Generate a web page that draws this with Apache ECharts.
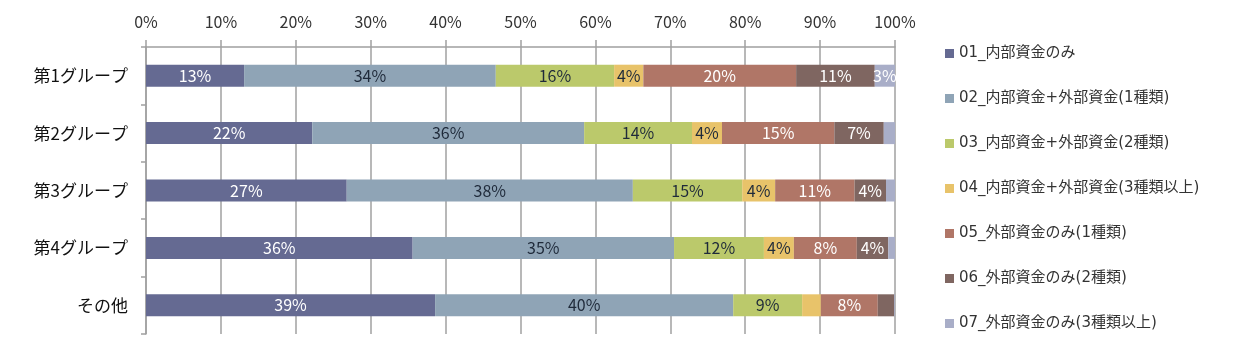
<!DOCTYPE html>
<html lang="ja">
<head>
    <meta charset="UTF-8">
    <title>資金調達の組み合わせ</title>
    <style>
        html, body { margin: 0; padding: 0; background: #ffffff; }
        #chart { width: 1255px; height: 355px; }
    </style>
</head>
<body>
<div id="chart"></div>
<script src="https://cdn.jsdelivr.net/npm/echarts@6/dist/echarts.min.js"></script>
<script>
    var categories = ['第1グループ', '第2グループ', '第3グループ', '第4グループ', 'その他'];
    var seriesNames = [
        '01_内部資金のみ',
        '02_内部資金+外部資金(1種類)',
        '03_内部資金+外部資金(2種類)',
        '04_内部資金+外部資金(3種類以上)',
        '05_外部資金のみ(1種類)',
        '06_外部資金のみ(2種類)',
        '07_外部資金のみ(3種類以上)'
    ];
    // 各グループの構成比(%)
    var s01 = [13.1, 22.2, 26.8, 35.6, 38.6];
    var s02 = [33.6, 36.3, 38.2, 34.9, 39.8];
    var s03 = [15.8, 14.4, 14.6, 12.0, 9.2];
    var s04 = [3.9, 4.0, 4.4, 4.0, 2.5];
    var s05 = [20.4, 15.0, 10.6, 8.4, 7.6];
    var s06 = [10.5, 6.6, 4.2, 4.2, 2.2];
    var s07 = [2.7, 1.5, 1.2, 0.9, 0.1];
    var xTicks = ['0%', '10%', '20%', '30%', '40%', '50%', '60%', '70%', '80%', '90%', '100%'];

    var colors = ['#656a92', '#8fa4b6', '#bbc96b', '#e8c36a', '#b07667', '#7f6661', '#a9aec8'];
    var labelColors = ['#ffffff', '#1f2a3a', '#1f2a3a', '#1f2a3a', '#ffffff', '#ffffff', '#ffffff'];
    var allData = [s01, s02, s03, s04, s05, s06, s07];

    var font = "'Noto Sans CJK JP', 'Noto Sans', sans-serif";
    var legendFont = "'DejaVu Sans', 'Noto Sans CJK JP', sans-serif";

    var chart = echarts.init(document.getElementById('chart'));
    var series = allData.map(function (d, i) {
        return {
            name: seriesNames[i],
            type: 'bar',
            stack: 'total',
            barWidth: 22,
            data: d,
            itemStyle: {color: colors[i]},
            label: {
                show: true,
                position: 'inside',
                color: labelColors[i],
                fontFamily: font,
                fontSize: 16,
                formatter: function (p) {
                    // 小さい区間はラベルなし
                    return p.value < 2.6 ? '' : Math.round(p.value) + '%';
                }
            }
        };
    });

    chart.setOption({
        animation: false,
        textStyle: {fontFamily: font},
        grid: {left: 146, right: 360, top: 47, bottom: 21},
        legend: {
            orient: 'vertical',
            left: 940,
            top: 41,
            icon: 'rect',
            itemWidth: 9,
            itemHeight: 9,
            itemGap: 30,
            data: seriesNames,
            textStyle: {fontSize: 15, color: '#333333', fontFamily: legendFont}
        },
        xAxis: {
            type: 'value',
            position: 'top',
            min: 0,
            max: 100,
            interval: 10,
            axisLine: {show: true, lineStyle: {color: '#a0a0a0', width: 1.5}},
            axisTick: {show: true, length: 7, inside: false, lineStyle: {color: '#a0a0a0', width: 1.5}},
            axisLabel: {
                color: '#333333',
                fontSize: 16,
                margin: 17,
                formatter: function (v) { return xTicks[Math.round(v / 10)]; }
            },
            splitLine: {show: true, lineStyle: {color: '#a0a0a0', width: 1.5}}
        },
        yAxis: {
            type: 'category',
            inverse: true,
            data: categories,
            axisLine: {show: true, lineStyle: {color: '#a0a0a0', width: 1.5}},
            axisTick: {show: true, length: 5, lineStyle: {color: '#a0a0a0', width: 1.5}},
            axisLabel: {color: '#111111', fontSize: 17, margin: 18}
        },
        series: series
    });
</script>
</body>
</html>
